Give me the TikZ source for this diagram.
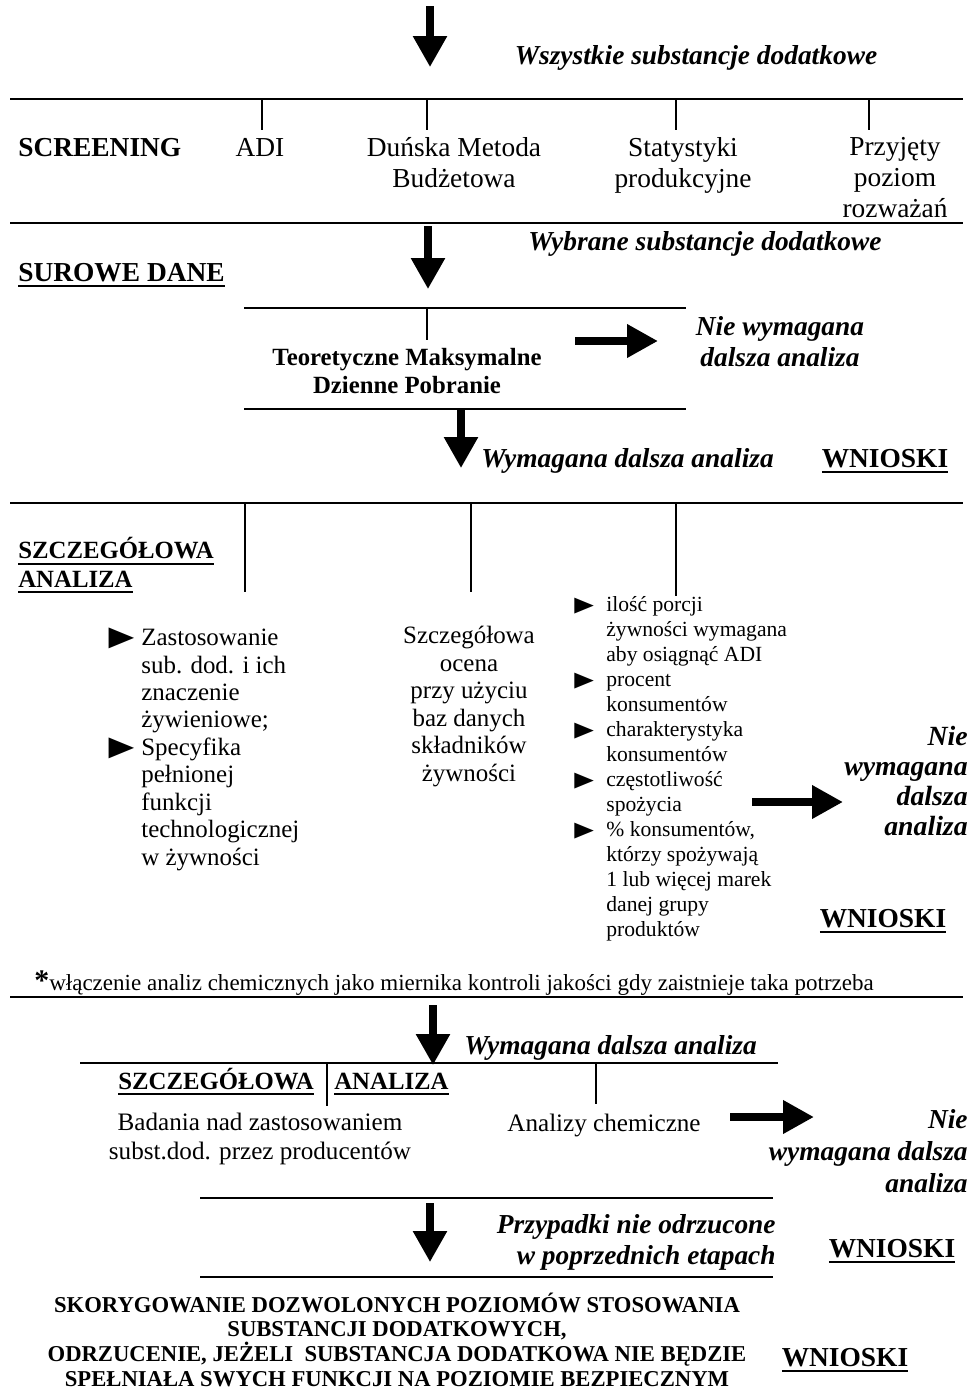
\documentclass[tikz,border=0pt]{standalone}
\usepackage{graphicx}
\usepackage{fontspec}
\setmainfont{Liberation Serif}
\newfontfamily\symfont{DejaVu Sans}
\usetikzlibrary{arrows.meta}
\newcommand{\fs}[2]{\fontsize{#1}{#2}\selectfont}
\newsavebox\ulsave
\newcommand{\ulbox}[1]{\sbox\ulsave{#1}\rlap{\rule[-3.6pt]{\wd\ulsave}{1.3pt}}\usebox\ulsave}
\newcommand{\tri}[2]{\llap{\scalebox{1}[0.82]{\symfont\fs{#1}{#1}▶}\hspace{#2}}}
\tikzset{
  tx/.style={font=\fs{15.6}{17.4},align=center},
  bhd/.style={font=\fs{15.6}{17.4}\bfseries},
  ihd/.style={font=\fs{15.6}{17.6}\bfseries\itshape,align=center},
  shd/.style={font=\fs{14.1}{16}\bfseries,align=left},
  colm/.style={font=\fs{14.2}{15.6},align=center},
  coll/.style={font=\fs{14.2}{15.6},align=left},
  colr/.style={font=\fs{12.3}{14.2},align=left},
  hline/.style={line width=1.1pt},
  sline/.style={line width=0.9pt},
  tick/.style={line width=0.6pt},
  darr/.style={line width=4pt,-{Triangle[length=17.6pt,width=18.5pt]}},
  rarr/.style={line width=4.6pt,-{Triangle[length=17.6pt,width=18pt]}},
}
\begin{document}
\begin{tikzpicture}[x=0.02cm,y=-0.02cm,every node/.style={inner sep=0pt}]
\useasboundingbox (0,0) rectangle (970,1393);
\coordinate (r1w) at (10,99);
\coordinate (r1e) at (963,99);
\coordinate (r2w) at (10,223);
\coordinate (r2e) at (963,223);
\coordinate (r3w) at (244,308);
\coordinate (r3e) at (686,308);
\coordinate (r4w) at (244,409);
\coordinate (r4e) at (686,409);
\coordinate (r5w) at (10,503);
\coordinate (r5e) at (963,503);
\coordinate (r6w) at (10,997);
\coordinate (r6e) at (963,997);
\coordinate (r7w) at (80,1063);
\coordinate (r7e) at (778,1063);
\coordinate (r8w) at (200,1198);
\coordinate (r8e) at (773,1198);
\coordinate (r9w) at (200,1277);
\coordinate (r9e) at (773,1277);
\coordinate (k1a) at (262,99);
\coordinate (k1b) at (262,130);
\coordinate (k2a) at (427,99);
\coordinate (k2b) at (427,130);
\coordinate (k3a) at (676,99);
\coordinate (k3b) at (676,130);
\coordinate (k4a) at (869,99);
\coordinate (k4b) at (869,130);
\coordinate (k5a) at (427,308);
\coordinate (k5b) at (427,340);
\coordinate (k6a) at (245,503);
\coordinate (k6b) at (245,592);
\coordinate (k7a) at (471,503);
\coordinate (k7b) at (471,592);
\coordinate (k8a) at (676,503);
\coordinate (k8b) at (676,596);
\coordinate (k9a) at (327,1063);
\coordinate (k9b) at (327,1106);
\coordinate (k10a) at (596,1063);
\coordinate (k10b) at (596,1104);
\coordinate (a1s) at (430,6);
\coordinate (a1e) at (430,67);
\coordinate (a2s) at (428,226);
\coordinate (a2e) at (428,289);
\coordinate (a3s) at (461,410);
\coordinate (a3e) at (461,468);
\coordinate (a4s) at (433,1005);
\coordinate (a4e) at (433,1065);
\coordinate (a5s) at (430,1203);
\coordinate (a5e) at (430,1262);
\coordinate (h1s) at (575,341);
\coordinate (h1e) at (658,341);
\coordinate (h2s) at (752,802);
\coordinate (h2e) at (843,802);
\coordinate (h3s) at (730,1117);
\coordinate (h3e) at (814,1117);
\node[ihd,anchor=base] (wsz) at (696,64) {Wszystkie substancje dodatkowe};
\node[bhd,anchor=base west] (scr) at (18,156) {SCREENING};
\node[tx,anchor=base] (adi) at (260,156) {ADI};
\node[tx,anchor=base] (dmb) at (454,187) {Duńska Metoda\\Budżetowa};
\node[tx,anchor=base] (stat) at (683,187) {Statystyki\\produkcyjne};
\node[tx,anchor=base] (przy) at (895,217) {Przyjęty\\poziom\\rozważań};
\node[ihd,anchor=base] (wyb) at (705,250) {Wybrane substancje dodatkowe};
\node[bhd,anchor=base west] (sur) at (18,281) {\ulbox{SUROWE DANE}};
\node[font=\fs{14.1}{15.9}\bfseries,align=center,anchor=base] (tmdp) at (407,393) {Teoretyczne Maksymalne\\Dzienne Pobranie};
\node[ihd,anchor=base] (nwd1) at (780,366) {Nie wymagana\\dalsza analiza};
\node[ihd,anchor=base west] (wda1) at (481,467) {Wymagana dalsza analiza};
\node[bhd,anchor=base] (wn1) at (885,467) {\ulbox{WNIOSKI}};
\node[shd,anchor=base west] (szcz1) at (18,587) {\ulbox{SZCZEGÓŁOWA}\\\ulbox{ANALIZA}};
\node[coll,anchor=base west] (zast) at (141,865) {\tri{19}{4pt}Zastosowanie\\sub. dod. i ich\\znaczenie\\żywieniowe;\\\tri{19}{4pt}Specyfika\\pełnionej\\funkcji\\technologicznej\\w żywności};
\node[colm,anchor=base] (ocena) at (469,781) {Szczegółowa\\ocena\\przy użyciu\\baz danych\\składników\\żywności};
\node[colr,anchor=base west] (ilosc) at (606,936) {\tri{14.5}{7pt}ilość porcji\\żywności wymagana\\aby osiągnąć ADI\\\tri{14.5}{7pt}procent\\konsumentów\\\tri{14.5}{7pt}charakterystyka\\konsumentów\\\tri{14.5}{7pt}częstotliwość\\spożycia\\\tri{14.5}{7pt}\% konsumentów,\\którzy spożywają\\1 lub więcej marek\\danej grupy\\produktów};
\node[font=\fs{15.8}{17}\bfseries\itshape,align=right,anchor=base east] (nwd2) at (968,835) {Nie\\wymagana\\dalsza\\analiza};
\node[bhd,anchor=base] (wn2) at (883,927) {\ulbox{WNIOSKI}};
\node[font=\fs{13.1}{14},anchor=base west] (note) at (34,990) {{\bfseries\fs{17}{17}*}włączenie analiz chemicznych jako miernika kontroli jakości gdy zaistnieje taka potrzeba};
\node[ihd,anchor=base west] (wda2) at (464,1054) {Wymagana dalsza analiza};
\node[shd,anchor=base west] (szcz2) at (118,1089) {\ulbox{SZCZEGÓŁOWA}};
\node[shd,anchor=base west] (anal2) at (334,1089) {\ulbox{ANALIZA}};
\node[font=\fs{14.3}{16},align=center,anchor=base] (bad) at (260,1159) {Badania nad zastosowaniem\\subst.dod. przez producentów};
\node[font=\fs{14.3}{16},anchor=base] (chem) at (604,1131) {Analizy chemiczne};
\node[font=\fs{15.6}{18}\bfseries\itshape,align=right,anchor=base east] (nwd3) at (968,1192) {Nie\\wymagana dalsza\\analiza};
\node[font=\fs{15.6}{17.6}\bfseries\itshape,align=right,anchor=base east] (przyp) at (776,1264) {Przypadki nie odrzucone\\w poprzednich etapach};
\node[bhd,anchor=base] (wn3) at (892,1257) {\ulbox{WNIOSKI}};
\node[font=\fs{12.9}{14}\bfseries,align=center,anchor=base] (skor) at (397,1386) {SKORYGOWANIE DOZWOLONYCH POZIOMÓW STOSOWANIA\\SUBSTANCJI DODATKOWYCH,\\ODRZUCENIE, JEŻELI\ \ SUBSTANCJA DODATKOWA NIE BĘDZIE\\SPEŁNIAŁA SWYCH FUNKCJI NA POZIOMIE BEZPIECZNYM};
\node[bhd,anchor=base] (wn4) at (845,1366) {\ulbox{WNIOSKI}};
\draw[hline] (r1w) -- (r1e);
\draw[hline] (r2w) -- (r2e);
\draw[sline] (r3w) -- (r3e);
\draw[sline] (r4w) -- (r4e);
\draw[hline] (r5w) -- (r5e);
\draw[hline] (r6w) -- (r6e);
\draw[sline] (r7w) -- (r7e);
\draw[sline] (r8w) -- (r8e);
\draw[sline] (r9w) -- (r9e);
\draw[tick] (k1a) -- (k1b);
\draw[tick] (k2a) -- (k2b);
\draw[tick] (k3a) -- (k3b);
\draw[tick] (k4a) -- (k4b);
\draw[tick] (k5a) -- (k5b);
\draw[tick] (k6a) -- (k6b);
\draw[tick] (k7a) -- (k7b);
\draw[tick] (k8a) -- (k8b);
\draw[tick] (k9a) -- (k9b);
\draw[tick] (k10a) -- (k10b);
\draw[darr] (a1s) -- (a1e);
\draw[darr] (a2s) -- (a2e);
\draw[darr] (a3s) -- (a3e);
\draw[darr] (a4s) -- (a4e);
\draw[darr] (a5s) -- (a5e);
\draw[rarr] (h1s) -- (h1e);
\draw[rarr] (h2s) -- (h2e);
\draw[rarr] (h3s) -- (h3e);
\end{tikzpicture}
\end{document}
